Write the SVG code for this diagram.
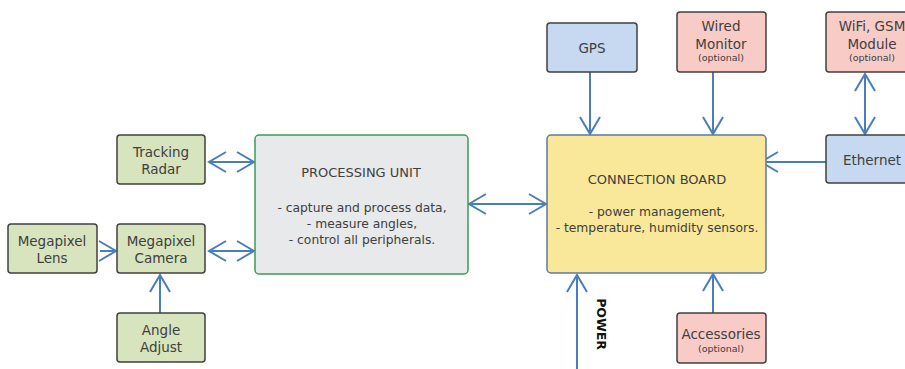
<svg xmlns="http://www.w3.org/2000/svg" width="905" height="369" viewBox="0 0 905 369">
<style>
text{font-family:"DejaVu Sans","Liberation Sans",sans-serif;fill:#404040;text-anchor:middle}
.g{fill:#d7e4bd;stroke:#404040;stroke-width:1.5}
.b{fill:#c6d9f1;stroke:#404040;stroke-width:1.5}
.p{fill:#f9cbc6;stroke:#404040;stroke-width:1.5}
.n{font-size:13.5px}
.o{font-size:9.5px}
.t{font-size:13px}
.d{font-size:12.3px}
.c line{stroke:#4a7ebb;stroke-width:2;fill:none}
</style>
<defs>
<marker id="a" markerUnits="userSpaceOnUse" markerWidth="22" markerHeight="24" viewBox="0 0 22 24" refX="19" refY="12" orient="auto-start-reverse">
<path d="M2,2 L19,12 L2,22" fill="none" stroke="#4a7ebb" stroke-width="2"/>
</marker>
</defs>
<rect width="905" height="369" fill="#fff"/>
<g class="c">
<line x1="209" y1="162" x2="254" y2="162" marker-start="url(#a)" marker-end="url(#a)"/>
<line x1="209" y1="251" x2="254" y2="251" marker-start="url(#a)" marker-end="url(#a)"/>
<line x1="100" y1="251" x2="116" y2="251" marker-end="url(#a)"/>
<line x1="160" y1="313" x2="160" y2="275" marker-end="url(#a)"/>
<line x1="469" y1="204" x2="546" y2="204" marker-start="url(#a)" marker-end="url(#a)"/>
<line x1="590" y1="72" x2="590" y2="134" marker-end="url(#a)"/>
<line x1="713" y1="72" x2="713" y2="134" marker-end="url(#a)"/>
<line x1="865" y1="74" x2="865" y2="134" marker-start="url(#a)" marker-end="url(#a)"/>
<line x1="826" y1="162" x2="761" y2="162" marker-end="url(#a)"/>
<line x1="577" y1="369" x2="577" y2="275" marker-end="url(#a)"/>
<line x1="713" y1="313" x2="713" y2="274" marker-end="url(#a)"/>
</g>
<g id="tracking-radar"><rect class="g" x="117" y="135" width="88" height="49" rx="3"/><text class="n" x="161" y="157">Tracking</text><text class="n" x="161" y="174">Radar</text></g>
<g id="megapixel-lens"><rect class="g" x="8" y="224" width="89" height="49" rx="3"/><text class="n" x="52" y="246">Megapixel</text><text class="n" x="52" y="263">Lens</text></g>
<g id="megapixel-camera"><rect class="g" x="117" y="224" width="88" height="49" rx="3"/><text class="n" x="161" y="246">Megapixel</text><text class="n" x="161" y="263">Camera</text></g>
<g id="angle-adjust"><rect class="g" x="117" y="313" width="88" height="49" rx="3"/><text class="n" x="161" y="335">Angle</text><text class="n" x="161" y="352">Adjust</text></g>
<g id="processing-unit"><rect x="255" y="135" width="213" height="139" rx="4" fill="#e8e9ea" stroke="#3c9a5a" stroke-width="1.5"/>
<text class="t" x="361" y="177">PROCESSING UNIT</text>
<text class="d" x="362" y="212">- capture and process data,</text>
<text class="d" x="362" y="228">- measure angles,</text>
<text class="d" x="362" y="244">- control all peripherals.</text></g>
<g id="connection-board"><rect x="547" y="135" width="219" height="138" rx="4" fill="#f9e79a" stroke="#5a7ba0" stroke-width="1.5"/>
<text class="t" x="657" y="184">CONNECTION BOARD</text>
<text class="d" x="657" y="216">- power management,</text>
<text class="d" x="657" y="232">- temperature, humidity sensors.</text></g>
<g id="gps"><rect class="b" x="547" y="23" width="90" height="49" rx="3"/><text class="n" x="592" y="53">GPS</text></g>
<g id="wired-monitor"><rect class="p" x="677" y="12" width="89" height="60" rx="3"/><text class="n" x="721" y="31">Wired</text><text class="n" x="721" y="49">Monitor</text><text class="o" x="721" y="61">(optional)</text></g>
<g id="wifi-gsm"><rect class="p" x="826" y="12" width="95" height="60" rx="3"/><text class="n" x="872" y="31">WiFi, GSM</text><text class="n" x="872" y="49">Module</text><text class="o" x="872" y="61">(optional)</text></g>
<g id="ethernet"><rect class="b" x="826" y="135" width="95" height="48" rx="3"/><text class="n" x="872" y="165">Ethernet</text></g>
<g id="accessories"><rect class="p" x="677" y="313" width="89" height="50" rx="3"/><text class="n" x="721" y="339">Accessories</text><text class="o" x="721" y="352">(optional)</text></g>
<text x="0" y="0" font-size="12.5" font-weight="bold" style="fill:#111" transform="translate(597 324) rotate(90)">POWER</text>
</svg>
